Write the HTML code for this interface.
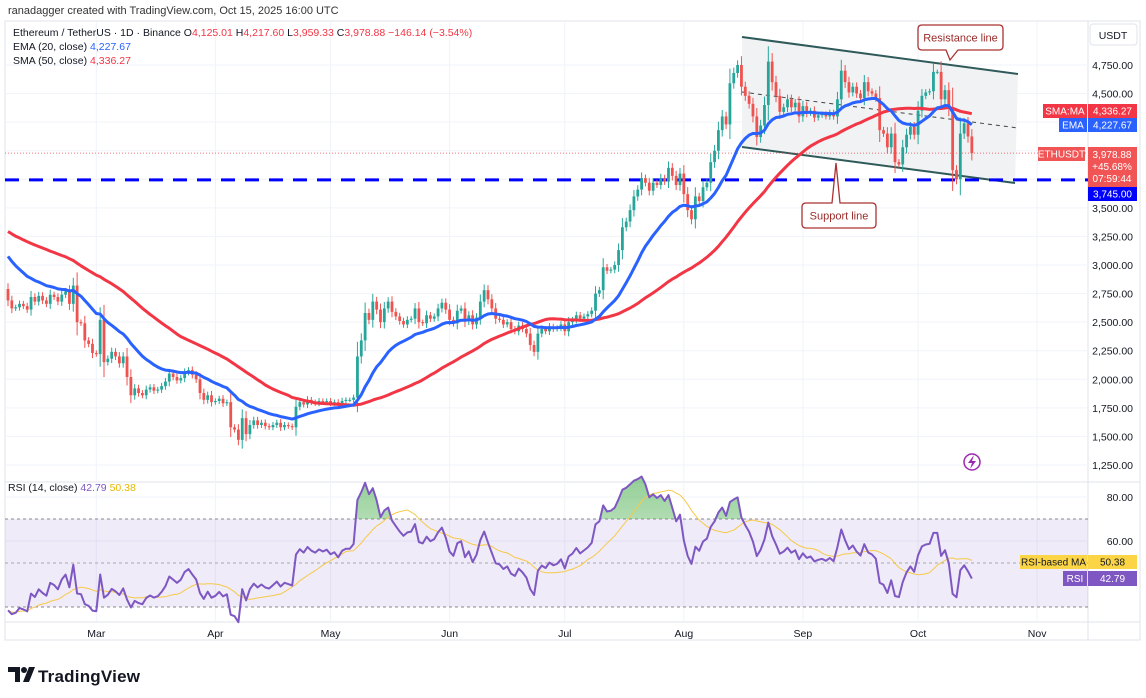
<!DOCTYPE html>
<html><head><meta charset="utf-8"><style>
body{margin:0;width:1146px;height:698px;background:#fff;font-family:"Liberation Sans",sans-serif;overflow:hidden;position:relative}
svg{position:absolute;left:0;top:0}
text{font-family:"Liberation Sans",sans-serif}
</style></head><body>
<svg id="c" width="1146" height="698"></svg>
<script>
const pre=[3890,3850,3700,3620,3420,3480,3410,3490,3360,3390,3330,3350,3400,3360,3330,3400,3350,3460,3620,3680,3630,3380,3330,3220,3250,3260,3220,3140,3240,3290,3310,3350,3480,3310,3340,3410,3320,3250,3260,3120,3220,3190,3140,3190,3300,3250,3110,2860,2890,2780,2790];
const closes=[2690,2620,2630,2660,2640,2610,2720,2680,2730,2690,2660,2740,2720,2680,2740,2770,2660,2820,
2500,2490,2340,2310,2230,2220,
2520,2150,2180,2240,2200,2140,2200,
2020,1860,1920,1880,1860,1910,1930,
1900,1910,1940,1980,2050,2020,1990,2010,2060,2080,2040,2000,
1880,1820,1860,1800,1810,1830,1790,
1800,1580,1560,1470,1660,1520,1600,
1640,1600,1620,1590,1580,1600,1620,1580,1600,1590,1580,
1760,1800,1780,1820,1800,1790,1810,1800,1810,1790,1800,1780,1810,1820,
1820,1840,2200,2340,2580,2520,2680,2610,2500,2620,2680,
2590,2550,2510,2480,2520,2530,2620,2500,2490,2560,2530,2550,2620,2670,2610,2520,
2490,2600,2620,2510,2560,2480,2540,2680,2780,2700,
2620,2530,2520,2480,2500,2440,2420,2470,2440,2400,
2300,2240,2400,2440,2420,2460,2440,2450,2480,2420,2500,2520,2560,2530,2550,2570,2600,2750,2780,2980,2950,2960,3000,3130,3330,3380,3480,3600,3660,3760,3720,3650,3720,3700,3760,3730,3850,3780,3700,3800,3620,3480,3400,3600,3560,3680,3720,3900,4000,4180,4300,4230,4590,4680,4750,4560,4480,4410,4300,4120,4220,4400,4780,4600,4480,4340,4380,4450,4380,4420,4300,4390,4330,4350,4290,4310,4320,4300,4330,4300,4450,4700,4600,4510,4560,4500,4460,4600,
4520,4500,4460,4180,4150,4030,4150,3900,3880,4030,4140,4210,4140,4350,4480,4510,4520,4690,4690,4450,4530,4370,3830,3750,4150,4240,4125,3978.88];
const priceTicks=[4750,4500,3500,3250,3000,2750,2500,2250,2000,1750,1500,1250];
const rsiTicks=[80,60];
const months=["Mar","Apr","May","Jun","Jul","Aug","Sep","Oct","Nov"];
const monthIdx=[23,54,84,115,145,176,207,237,268];

const NS="http://www.w3.org/2000/svg";
const svg=document.getElementById('c');
function el(tag,attrs,parent,txt){const e=document.createElementNS(NS,tag);for(const k in attrs)e.setAttribute(k,attrs[k]);if(txt!==undefined)e.textContent=txt;(parent||svg).appendChild(e);return e;}
const xOf=i=>8+i*3.84;
const yP=p=>65+(4750-p)*400/3500;
const yR=r=>607-(r-30)*2.2;

let ema=[],sma=[];let e=all0();function all0(){return 0;}
const all=pre.concat(closes);const P=pre.length;
e=all.slice(0,20).reduce((a,b)=>a+b)/20;const k=2/21;
for(let j=0;j<all.length;j++){if(j>=20)e=all[j]*k+e*(1-k);if(j>=P){ema.push(e);let s=0;for(let m=j-49;m<=j;m++)s+=all[m];sma.push(s/50);}}
let rsi=[];let ag=0,al=0;
for(let j=1;j<=14;j++){const d=all[j]-all[j-1];if(d>0)ag+=d;else al-=d;}ag/=14;al/=14;
for(let j=15;j<all.length;j++){const d=all[j]-all[j-1];ag=(ag*13+Math.max(d,0))/14;al=(al*13+Math.max(-d,0))/14;if(j>=P)rsi.push(100-100/(1+ag/al));}
let rsiMa=rsi.map((v,i)=>{const s=rsi.slice(Math.max(0,i-13),i+1);return s.reduce((a,b)=>a+b)/s.length;});

let g=el('g',{});
el('text',{x:8,y:14,'font-size':11,fill:'#333'},g,'ranadagger created with TradingView.com, Oct 15, 2025 16:00 UTC');
el('rect',{x:5,y:21,width:1135,height:619,fill:'none',stroke:'#e0e3eb'},g);
el('line',{x1:1088,y1:21,x2:1088,y2:640,stroke:'#e0e3eb'},g);
el('line',{x1:5,y1:482,x2:1140,y2:482,stroke:'#e0e3eb'},g);
el('line',{x1:5,y1:622,x2:1140,y2:622,stroke:'#e0e3eb'},g);

let grid=el('g',{stroke:'#f0f3fa'});
priceTicks.concat([4250,4000,3750]).forEach(p=>el('line',{x1:5,x2:1088,y1:yP(p),y2:yP(p)},grid));
rsiTicks.forEach(r=>el('line',{x1:5,x2:1088,y1:yR(r),y2:yR(r)},grid));
monthIdx.forEach(i=>el('line',{x1:xOf(i),x2:xOf(i),y1:21,y2:622},grid));

let ch=el('g',{});
el('polygon',{points:'742,37 1018,74 1015,183 742,147',fill:'#f0f1f3',opacity:0.9},ch);
el('line',{x1:742,y1:37,x2:1018,y2:74,stroke:'#2f5a5a','stroke-width':2},ch);
el('line',{x1:742,y1:147,x2:1015,y2:183,stroke:'#2f5a5a','stroke-width':2},ch);
el('line',{x1:742,y1:92,x2:1018,y2:128,stroke:'#444','stroke-width':1,'stroke-dasharray':'4 4'},ch);

let hl=el('line',{x1:5,x2:1088,y1:yP(3745),y2:yP(3745),stroke:'#0000ff','stroke-width':3,'stroke-dasharray':'14 10'});


let lp=el('line',{x1:5,x2:1088,y1:yP(3978.88),y2:yP(3978.88),stroke:'#f23645','stroke-width':1,'stroke-dasharray':'1 2',opacity:0.7});


let cg=el('g',{});
closes.forEach((c,i)=>{const o=i==0?pre[P-1]:closes[i-1];const up=c>=o;const col=up?'#26a69a':'#ef5350';
 const hi=Math.max(o,c)+Math.abs(c-o)*0.3+20,lo=Math.min(o,c)-Math.abs(c-o)*0.3-20;const x=xOf(i);
 el('line',{x1:x,x2:x,y1:yP(hi),y2:yP(lo),stroke:col,'stroke-width':1},cg);
 const r=el('rect',{x:x-1.4,y:yP(Math.max(o,c)),width:2.8,height:Math.max(1,Math.abs(yP(o)-yP(c))),fill:col},cg);
 
 
});
function poly(arr,yf,attrs,name){const pts=arr.map((v,i)=>xOf(i).toFixed(1)+','+yf(v).toFixed(1)).join(' ');const p=el('polyline',Object.assign({points:pts,fill:'none'},attrs));return p;}
poly(sma,yP,{stroke:'#f23645','stroke-width':3,'stroke-linejoin':'round'},'sma-50-line');
poly(ema,yP,{stroke:'#2962ff','stroke-width':3,'stroke-linejoin':'round'},'ema-20-line');

function callout(x,y,w,h,tx,ty,label,name,up){const gg=el('g',{});
 let d;if(!up){d=`M${x+4},${y} H${x+w-4} Q${x+w},${y} ${x+w},${y+4} V${y+h-4} Q${x+w},${y+h} ${x+w-4},${y+h} H${tx+8} L${tx},${ty} L${tx-4},${y+h} H${x+4} Q${x},${y+h} ${x},${y+h-4} V${y+4} Q${x},${y} ${x+4},${y}Z`;}
 else{d=`M${x+4},${y} H${tx-4} L${tx},${ty} L${tx+4},${y} H${x+w-4} Q${x+w},${y} ${x+w},${y+4} V${y+h-4} Q${x+w},${y+h} ${x+w-4},${y+h} H${x+4} Q${x},${y+h} ${x},${y+h-4} V${y+4} Q${x},${y} ${x+4},${y}Z`;}
 el('path',{d:d,fill:'#fff',stroke:'#a33','stroke-width':1.3},gg);
 el('text',{x:x+w/2,y:y+h/2+4,'font-size':11,fill:'#9a2b2b','text-anchor':'middle'},gg,label);}
callout(918,25,85,25,950,60,'Resistance line','resistance-line-callout',false);
callout(802,203,74,25,836,163,'Support line','support-line-callout',true);

let ax=el('g',{'font-size':10.5,fill:'#131722','text-anchor':'end'});
el('rect',{x:1090,y:24,width:47,height:21,rx:3,fill:'#fff',stroke:'#e0e3eb'},ax);
el('text',{x:1113,y:39,'text-anchor':'middle'},ax,'USDT');
priceTicks.forEach(p=>el('text',{x:1133,y:yP(p)+4},ax,p.toLocaleString('en-US')+'.00'));
function tag(x,y,w,h,bg,txt,name,col){const gg=el('g',{});el('rect',{x:x,y:y,width:w,height:h,fill:bg},gg);el('text',{x:x+w/2,y:y+h/2+3.5,'font-size':10,fill:col||'#fff','text-anchor':'middle'},gg,txt);}
tag(1043,104,44,14,'#f23645','SMA:MA','sma-tag');tag(1088,104,49,14,'#f23645','4,336.27','sma-value');
tag(1059,118,28,14,'#2962ff','EMA','ema-tag');tag(1088,118,49,14,'#2962ff','4,227.67','ema-value');
tag(1038,147,47,14,'#f05454','ETHUSDT','symbol-tag');
let pv=el('g',{});
el('rect',{x:1088,y:147,width:49,height:40,fill:'#f05454'},pv);
['3,978.88','+45.68%','07:59:44'].forEach((t,i)=>el('text',{x:1112,y:158+i*12,'font-size':10,fill:'#fff','text-anchor':'middle'},pv,t));
tag(1088,187,49,14,'#0000ff','3,745.00','support-value-tag');

let hd=el('g',{'font-size':10.5});
let t1=el('text',{x:13,y:36,fill:'#131722'},hd);
[['Ethereum / TetherUS · 1D · Binance  O','#131722'],['4,125.01','#f23645'],['  H','#131722'],['4,217.60','#f23645'],['  L','#131722'],['3,959.33','#f23645'],['  C','#131722'],['3,978.88  −146.14 (−3.54%)','#f23645']].forEach(([s,c])=>el('tspan',{fill:c,'xml:space':'preserve'},t1,s));
let t2=el('text',{x:13,y:50,fill:'#131722'},hd);el('tspan',{},t2,'EMA (20, close) ');el('tspan',{fill:'#2962ff'},t2,'4,227.67');
let t3=el('text',{x:13,y:64,fill:'#131722'},hd);el('tspan',{},t3,'SMA (50, close) ');el('tspan',{fill:'#f23645'},t3,'4,336.27');

let li=el('g',{});
el('circle',{cx:972,cy:462,r:8,fill:'none',stroke:'#9c27b0','stroke-width':1.5},li);
el('path',{d:'M974,455 L968,463 L972,463 L970,469 L976,461 L972,461Z',fill:'#9c27b0'},li);

let rp=el('g',{});
el('rect',{x:5,y:yR(70),width:1083,height:yR(30)-yR(70),fill:'#7e57c2',opacity:0.12},rp);
el('line',{x1:5,x2:1088,y1:yR(70),y2:yR(70),stroke:'#888','stroke-dasharray':'3 3'},rp);
el('line',{x1:5,x2:1088,y1:yR(50),y2:yR(50),stroke:'#aaa','stroke-dasharray':'3 3'},rp);
el('line',{x1:5,x2:1088,y1:yR(30),y2:yR(30),stroke:'#888','stroke-dasharray':'3 3'},rp);
const defs=el('defs',{});
const cp=el('clipPath',{id:'ob'},defs);el('rect',{x:0,y:0,width:1146,height:yR(70)},cp);
const lg=el('linearGradient',{id:'gr',x1:0,y1:0,x2:0,y2:1},defs);el('stop',{offset:0,'stop-color':'#4caf50','stop-opacity':0.6},lg);el('stop',{offset:1,'stop-color':'#4caf50','stop-opacity':0.05},lg);
const ptsR=rsi.map((v,i)=>xOf(i).toFixed(1)+','+yR(v).toFixed(1));
let ob=el('polygon',{points:ptsR.join(' ')+` ${xOf(rsi.length-1)},${yR(70)} 8,${yR(70)}`,fill:'url(#gr)','clip-path':'url(#ob)'});

poly(rsiMa,yR,{stroke:'#f7c948','stroke-width':1},'rsi-ma-line');
poly(rsi,yR,{stroke:'#7e57c2','stroke-width':2,'stroke-linejoin':'round'},'rsi-line');
let rh=el('text',{x:8,y:491,'font-size':10.5,fill:'#131722'});
el('tspan',{},rh,'RSI (14, close) ');el('tspan',{fill:'#7e57c2'},rh,'42.79 ');el('tspan',{fill:'#e6b800'},rh,'50.38');
let ra=el('g',{'font-size':10.5,fill:'#131722','text-anchor':'end'});
rsiTicks.forEach(r=>el('text',{x:1133,y:yR(r)+4},ra,r.toFixed(2)));
tag(1020,555,67,14,'#fbd545','RSI-based MA','rsi-ma-tag','#131722');tag(1088,555,49,14,'#fbd545','50.38','rsi-ma-value','#131722');
tag(1063,571,24,15,'#7e57c2','RSI','rsi-tag');tag(1088,571,49,15,'#7e57c2','42.79','rsi-value');

let ta=el('g',{'font-size':10.5,fill:'#131722','text-anchor':'middle'});
months.forEach((m,i)=>el('text',{x:xOf(monthIdx[i]),y:637},ta,m));

let lo=el('g',{});
el('path',{d:'M8,667 H20 V682 H15 V672 H8Z',fill:'#131722'},lo);
el('circle',{cx:24,cy:670,r:3,fill:'#131722'},lo);
el('path',{d:'M29,667 H35 L29,682 H23Z',fill:'#131722'},lo);
el('text',{x:38,y:682,'font-size':17,'font-weight':'bold',fill:'#131722',textLength:102},lo,'TradingView');
</script>
</body></html>
